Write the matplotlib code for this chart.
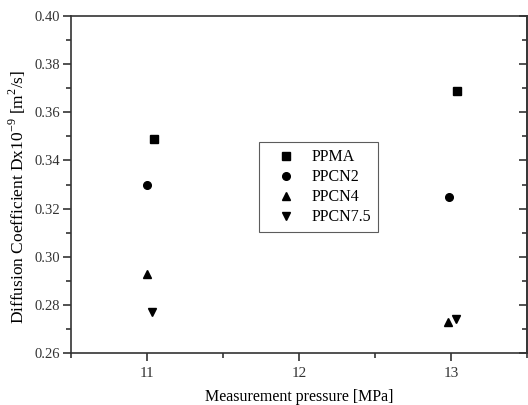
import matplotlib.pyplot as plt
from matplotlib.ticker import MultipleLocator

plt.rcParams['font.family'] = ['Liberation Serif', 'DejaVu Serif']

# Diffusion coefficients at the two measurement pressures
series = ['PPMA', 'PPCN2', 'PPCN4', 'PPCN7.5']
pressure = {
    'PPMA': [11.045, 13.04],
    'PPCN2': [11.0, 12.99],
    'PPCN4': [11.0, 12.98],
    'PPCN7.5': [11.03, 13.03],
}
diffusion = {
    'PPMA': [0.349, 0.369],
    'PPCN2': [0.330, 0.325],
    'PPCN4': [0.293, 0.273],
    'PPCN7.5': [0.277, 0.274],
}
markers = {'PPMA': 's', 'PPCN2': 'o', 'PPCN4': '^', 'PPCN7.5': 'v'}

axis_col = '#333333'

fig = plt.figure(figsize=(5.28, 4.05), dpi=100)
ax = fig.add_axes([0.1345, 0.128, 0.8635, 0.8325])

for name in series:
    ax.plot(pressure[name], diffusion[name], linestyle='none',
            marker=markers[name], color='black', markersize=5.5, label=name)

ax.set_xlim(10.5, 13.5)
ax.set_ylim(0.26, 0.40)
ax.xaxis.set_major_locator(MultipleLocator(1))
ax.xaxis.set_minor_locator(MultipleLocator(0.5))
ax.yaxis.set_major_locator(MultipleLocator(0.02))
ax.yaxis.set_minor_locator(MultipleLocator(0.01))
ax.yaxis.set_major_formatter(plt.FormatStrFormatter('%.2f'))

ax.tick_params(which='both', direction='out', width=1.2, colors=axis_col, pad=2)
ax.tick_params(axis='x', labelsize=11, pad=4)
ax.tick_params(axis='y', labelsize=10.5)
ax.tick_params(which='major', length=6)
ax.tick_params(which='minor', length=3.5)

for side in ['left', 'bottom', 'right', 'top']:
    ax.spines[side].set_linewidth(1.2)
    ax.spines[side].set_color(axis_col)

# inward ticks on the right-hand side
right = ax.secondary_yaxis('right')
right.yaxis.set_major_locator(MultipleLocator(0.02))
right.yaxis.set_minor_locator(MultipleLocator(0.01))
right.tick_params(which='both', direction='in', labelright=False, width=1.2, colors=axis_col)
right.tick_params(which='major', length=6)
right.tick_params(which='minor', length=3.5)
right.spines['right'].set_linewidth(1.2)
right.spines['right'].set_color(axis_col)

ax.set_xlabel('Measurement pressure [MPa]', fontsize=11.5)
ax.xaxis.set_label_coords(0.5, -0.105)
ax.set_ylabel(r'Diffusion Coefficient Dx10$^{\mathregular{-9}}$ [m$^{\mathregular{2}}$/s]',
              fontsize=12.5)
ax.yaxis.set_label_coords(-0.095, 0.463)

leg = ax.legend(loc='upper left', bbox_to_anchor=(0.412, 0.626), fontsize=11.5,
                frameon=True, fancybox=False, edgecolor=axis_col, borderaxespad=0,
                handlelength=2.5, handletextpad=0.35, borderpad=0.45, labelspacing=0.25)
leg.get_frame().set_linewidth(0.8)

fig.savefig('out.png', dpi=100)
